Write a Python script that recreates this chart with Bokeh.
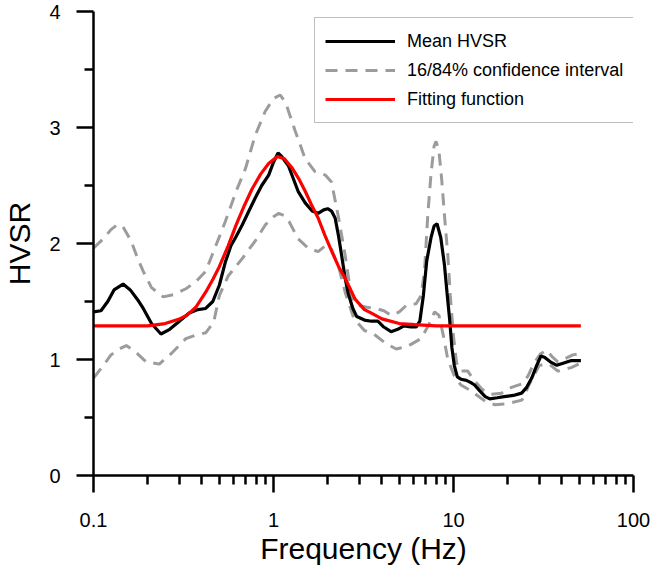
from bokeh.plotting import figure
from bokeh.models import FixedTicker, Legend, LegendItem
from bokeh.embed import file_html
from bokeh.resources import INLINE

# ---------------- data ----------------
mean_f = [0.100, 0.110, 0.120, 0.130, 0.146, 0.160, 0.175, 0.189, 0.210, 0.237,
          0.265, 0.300, 0.340, 0.380, 0.420, 0.460, 0.500, 0.540, 0.580, 0.620,
          0.670, 0.730, 0.790, 0.860, 0.940, 1.000, 1.060, 1.110, 1.210, 1.370,
          1.500, 1.640, 1.770, 1.900, 2.000, 2.100, 2.200, 2.300, 2.400, 2.500,
          2.600, 2.760, 2.900, 3.200, 3.500, 3.800, 4.100, 4.500, 4.900, 5.300,
          5.800, 6.200, 6.500, 6.800, 7.100, 7.500, 7.800, 8.100, 8.500, 8.900,
          9.200, 9.500, 9.800, 10.10, 10.50, 11.00, 11.80, 12.50, 13.10, 14.00,
          15.00, 15.90, 17.50, 19.10, 21.50, 23.90, 25.50, 27.20, 29.00, 30.60,
          32.00, 34.50, 37.50, 41.00, 44.80, 51.00]
mean_hvsr = [1.41, 1.42, 1.50, 1.60, 1.65, 1.60, 1.52, 1.44, 1.31, 1.22,
             1.26, 1.33, 1.40, 1.43, 1.44, 1.50, 1.64, 1.84, 1.98, 2.06,
             2.16, 2.28, 2.39, 2.50, 2.59, 2.70, 2.78, 2.75, 2.67, 2.45,
             2.35, 2.28, 2.26, 2.29, 2.30, 2.28, 2.22, 2.06, 1.88, 1.70,
             1.57, 1.44, 1.37, 1.34, 1.33, 1.33, 1.28, 1.24, 1.26, 1.29,
             1.28, 1.28, 1.33, 1.55, 1.85, 2.05, 2.15, 2.17, 2.05, 1.82,
             1.58, 1.36, 1.10, 0.95, 0.85, 0.83, 0.82, 0.80, 0.78, 0.73,
             0.68, 0.66, 0.67, 0.68, 0.69, 0.71, 0.76, 0.84, 0.95, 1.03,
             1.02, 0.98, 0.95, 0.97, 0.99, 0.99]

upper_f = [0.100, 0.115, 0.125, 0.135, 0.145, 0.162, 0.175, 0.189, 0.210, 0.244,
           0.280, 0.326, 0.370, 0.420, 0.478, 0.540, 0.620, 0.700, 0.790, 0.900,
           1.000, 1.090, 1.170, 1.320, 1.500, 1.700, 1.940, 2.100, 2.300, 2.500,
           2.700, 2.900, 3.300, 3.700, 4.100, 4.500, 5.000, 5.500, 6.200, 6.600,
           6.900, 7.200, 7.500, 7.800, 8.000, 8.300, 8.600, 8.900, 9.300, 9.600,
           10.00, 10.40, 11.00, 12.00, 13.00, 14.50, 16.10, 18.50, 21.00, 24.00,
           26.00, 28.00, 30.50, 33.00, 35.50, 38.00, 42.00, 46.00, 51.00]
upper_hvsr = [1.96, 2.05, 2.12, 2.16, 2.15, 2.02, 1.88, 1.76, 1.62, 1.54,
              1.56, 1.61, 1.67, 1.76, 1.98, 2.19, 2.45, 2.65, 2.93, 3.14,
              3.25, 3.28, 3.21, 2.97, 2.73, 2.62, 2.59, 2.53, 2.22, 1.90,
              1.55, 1.47, 1.45, 1.44, 1.42, 1.38, 1.41, 1.47, 1.48, 1.55,
              1.76, 2.25, 2.60, 2.84, 2.88, 2.80, 2.55, 2.25, 1.90, 1.55,
              1.20, 0.97, 0.90, 0.90, 0.82, 0.74, 0.70, 0.71, 0.76, 0.79,
              0.86, 0.97, 1.05, 1.08, 1.02, 0.98, 1.01, 1.04, 1.05]

lower_f = [0.100, 0.115, 0.125, 0.139, 0.152, 0.170, 0.196, 0.232, 0.270, 0.326,
           0.370, 0.420, 0.465, 0.500, 0.560, 0.670, 0.790, 0.900, 1.000, 1.070,
           1.150, 1.220, 1.370, 1.560, 1.770, 1.940, 2.100, 2.300, 2.500, 2.800,
           3.200, 3.600, 4.200, 4.800, 5.500, 6.600, 7.300, 7.850, 8.300, 8.800,
           9.300, 10.10, 11.00, 12.50, 15.00, 17.00, 20.00, 24.00, 27.00, 30.00,
           34.00, 38.00, 45.00, 51.00]
lower_hvsr = [0.84, 0.96, 1.04, 1.09, 1.12, 1.07, 0.98, 0.96, 1.05, 1.18,
              1.21, 1.23, 1.32, 1.55, 1.72, 1.87, 2.02, 2.16, 2.23, 2.26,
              2.24, 2.19, 2.04, 1.96, 1.93, 1.98, 1.95, 1.80, 1.58, 1.35,
              1.25, 1.22, 1.14, 1.09, 1.11, 1.18, 1.30, 1.41, 1.38, 1.20,
              1.00, 0.86, 0.78, 0.73, 0.64, 0.61, 0.62, 0.65, 0.82, 0.95,
              0.96, 0.90, 0.93, 0.97]

fit_f = [0.100, 0.150, 0.200, 0.250, 0.300, 0.330, 0.370, 0.420, 0.460, 0.500,
         0.560, 0.620, 0.690, 0.760, 0.850, 0.940, 1.050, 1.150, 1.270, 1.380,
         1.500, 1.630, 1.770, 1.930, 2.110, 2.300, 2.500, 2.840, 3.200, 3.500,
         4.000, 5.000, 6.100, 8.000, 12.00, 51.00]
fit_hvsr = [1.29, 1.29, 1.29, 1.31, 1.35, 1.38, 1.45, 1.58, 1.69, 1.80,
            1.98, 2.16, 2.33, 2.47, 2.60, 2.69, 2.75, 2.73, 2.65, 2.56,
            2.45, 2.33, 2.22, 2.07, 1.93, 1.80, 1.70, 1.52, 1.43, 1.40,
            1.35, 1.31, 1.30, 1.29, 1.29, 1.29]

x_major = [0.1, 1, 10, 100]
x_major_labels = ["0.1", "1", "10", "100"]
x_minor = [0.2, 0.3, 0.4, 0.5, 0.6, 0.7, 0.8, 0.9,
           2, 3, 4, 5, 6, 7, 8, 9,
           20, 30, 40, 50, 60, 70, 80, 90]
y_major = [0, 1, 2, 3, 4]
y_minor = [0.5, 1.5, 2.5, 3.5]

series_labels = ["Mean HVSR", "16/84% confidence interval", "Fitting function"]

FONT = "Liberation Sans"

p = figure(frame_width=540, frame_height=464,
           x_axis_type="log", x_range=(0.1, 100), y_range=(0, 4),
           output_backend="svg", toolbar_location=None,
           min_border_left=84, min_border_right=20,
           min_border_top=11, min_border_bottom=83)
p.outline_line_color = None
p.xgrid.visible = False
p.ygrid.visible = False
p.background_fill_color = "white"
p.border_fill_color = "white"

gray = "#9c9c9c"
r_up = p.line(upper_f, upper_hvsr, line_color=gray, line_width=3, line_dash="12 8")
r_lo = p.line(lower_f, lower_hvsr, line_color=gray, line_width=3, line_dash="12 8")
r_mean = p.line(mean_f, mean_hvsr, line_color="black", line_width=3.2)
r_fit = p.line(fit_f, fit_hvsr, line_color="#ff0000", line_width=3.2)

p.xaxis.ticker = FixedTicker(ticks=x_major, minor_ticks=x_minor)
p.xaxis.major_label_overrides = {v: s for v, s in zip(x_major, x_major_labels)}
p.yaxis.ticker = FixedTicker(ticks=y_major, minor_ticks=y_minor)
p.xaxis.axis_label = "Frequency (Hz)"
p.yaxis.axis_label = "HVSR"

for ax in (p.xaxis, p.yaxis):
    ax.axis_line_width = 2.5
    ax.axis_line_color = "black"
    ax.major_tick_line_width = 2.5
    ax.minor_tick_line_width = 2.5
    ax.major_tick_line_color = "black"
    ax.minor_tick_line_color = "black"
    ax.major_tick_in = 0
    ax.major_tick_out = 17
    ax.minor_tick_in = 0
    ax.minor_tick_out = 9
    ax.major_label_text_font = FONT
    ax.major_label_text_font_size = "20px"
    ax.major_label_text_color = "black"
    ax.axis_label_text_font = FONT
    ax.axis_label_text_font_size = "30px"
    ax.axis_label_text_font_style = "normal"
    ax.axis_label_text_color = "black"
p.yaxis.major_label_standoff = 16
p.xaxis.major_label_standoff = 20
p.yaxis.axis_label_standoff = 10
p.xaxis.axis_label_standoff = 2

legend = Legend(items=[
    LegendItem(label=series_labels[0], renderers=[r_mean]),
    LegendItem(label=series_labels[1], renderers=[r_up]),
    LegendItem(label=series_labels[2], renderers=[r_fit]),
], location=(221, 352))
legend.label_text_font = FONT
legend.label_text_font_size = "18px"
legend.label_text_color = "black"
legend.glyph_width = 70
legend.glyph_height = 26
legend.label_height = 26
legend.label_standoff = 12
legend.padding = 10
legend.spacing = 3
legend.margin = 0
legend.border_line_color = "#808080"
legend.border_line_width = 1
legend.background_fill_color = "white"
legend.background_fill_alpha = 1
p.add_layout(legend)

open("out.html", "w").write(file_html(p, INLINE))
